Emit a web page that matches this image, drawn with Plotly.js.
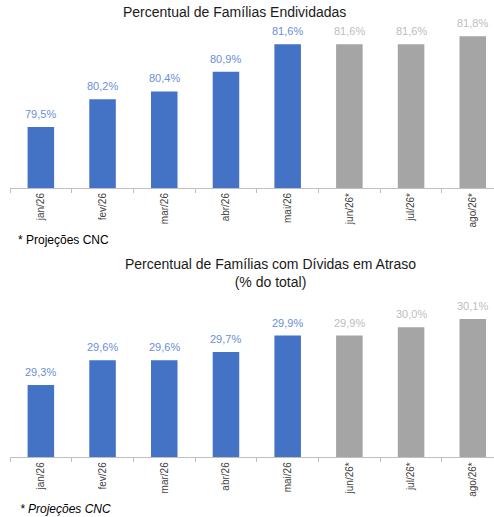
<!DOCTYPE html>
<html>
<head>
<meta charset="utf-8">
<script src="https://cdn.plot.ly/plotly-3.0.1.min.js"></script>
<style>html,body{margin:0;padding:0;background:#fff;}#chart{width:494px;height:517px;}</style>
</head>
<body>
<div id="chart"></div>
<script>
var months = ["jan/26","fev/26","mar/26","abr/26","mai/26","jun/26*","jul/26*","ago/26*"];
var endividadas = [79.5, 80.2, 80.4, 80.9, 81.6, 81.6, 81.6, 81.8];
var atraso = [29.3, 29.6, 29.6, 29.7, 29.9, 29.9, 30.0, 30.1];
var isProjection = [false, false, false, false, false, true, true, true];

var blue = "#4472C4", grey = "#A5A5A5";
var blueLbl = "#6A8FD6", greyLbl = "#BDBDBD";
var barColors = isProjection.map(function(p){return p ? grey : blue;});
var lblColors = isProjection.map(function(p){return p ? greyLbl : blueLbl;});
var fontFam = "Liberation Sans, Arial, sans-serif";

function fmt(v){ return v.toFixed(1).replace(".", ",") + "%"; }

function barTrace(vals, xa, ya) {
  return {
    type: "bar", x: months, y: vals, xaxis: xa, yaxis: ya,
    width: 0.43,
    marker: {color: barColors, line: {width: 0}},
    hoverinfo: "skip", showlegend: false
  };
}

function labelAnns(vals, xa, ya) {
  return vals.map(function(v, i){
    return {text: fmt(v), x: months[i], y: v, xref: xa, yref: ya,
      xanchor: "center", yanchor: "bottom", yshift: 5, showarrow: false,
      font: {family: fontFam, size: 11, color: lblColors[i]}};
  });
}

var xCommon = {
  type: "category", range: [-0.5, 7.344], domain: [10/494, 1],
  tickson: "boundaries", ticks: "outside", ticklen: 4, tickcolor: "#BFBFBF",
  showline: true, linecolor: "#BFBFBF", linewidth: 1,
  showgrid: false, zeroline: false, tickangle: -90,
  tickfont: {family: fontFam, size: 10, color: "#404040"}, fixedrange: true
};
var x1 = Object.assign({}, xCommon, {anchor: "y"});
var x2 = Object.assign({}, xCommon, {anchor: "y2"});

var anns = [
  {text: "Percentual de Famílias Endividadas", xref: "paper", yref: "paper",
   x: 234/494, y: (517-12)/517, xanchor: "center", yanchor: "middle", showarrow: false,
   font: {family: fontFam, size: 14, color: "#1a1a1a"}},
  {text: "* Projeções CNC", xref: "paper", yref: "paper",
   x: 16/494, y: (517-240)/517, xanchor: "left", yanchor: "middle", showarrow: false,
   font: {family: fontFam, size: 12, color: "#000"}},
  {text: "Percentual de Famílias com Dívidas em Atraso<br>(% do total)", xref: "paper", yref: "paper",
   x: 270/494, y: (517-273)/517, xanchor: "center", yanchor: "middle", showarrow: false,
   font: {family: fontFam, size: 14, color: "#1a1a1a"}},
  {text: "<i>* Projeções CNC</i>", xref: "paper", yref: "paper",
   x: 18/494, y: (517-509)/517, xanchor: "left", yanchor: "middle", showarrow: false,
   font: {family: fontFam, size: 12, color: "#000"}}
].concat(labelAnns(endividadas, "x", "y")).concat(labelAnns(atraso, "x2", "y2"));

var layout = {
  width: 494, height: 517,
  margin: {l: 0, r: 0, t: 0, b: 0},
  paper_bgcolor: "#fff", plot_bgcolor: "#fff",
  separators: ",.",
  xaxis: x1,
  xaxis2: x2,
  yaxis: {domain: [(517-188)/517, (517-30)/517], range: [77.95, 81.96], visible: false, fixedrange: true},
  yaxis2: {domain: [(517-457.3)/517, (517-300)/517], range: [28.423, 30.332], visible: false, fixedrange: true, anchor: "x2"},
  annotations: anns
};

Plotly.newPlot("chart", [barTrace(endividadas, "x", "y"), barTrace(atraso, "x2", "y2")], layout, {displayModeBar: false, staticPlot: true});
</script>
</body>
</html>
